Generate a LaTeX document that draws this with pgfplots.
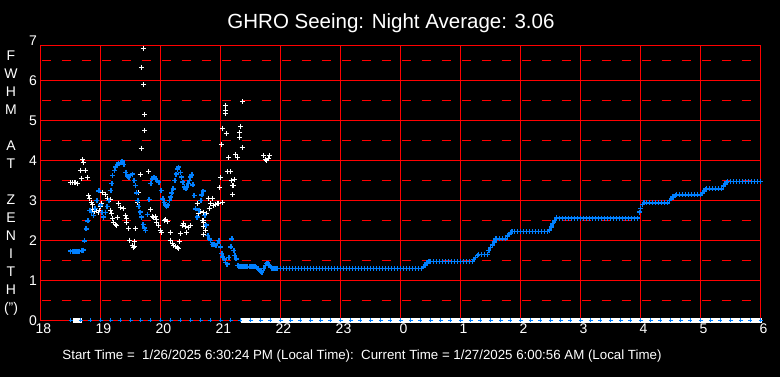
\documentclass[border=0pt]{standalone}
\usepackage{pgfplots}
\pgfplotsset{compat=1.18}
\usepackage{fontspec}
\setmainfont{Liberation Sans}
\definecolor{myblue}{RGB}{0,128,255}
\begin{document}
\begin{tikzpicture}[x=1pt,y=1pt]
\fill[black] (0,0) rectangle (780,377);
\begin{axis}[
  at={(40.5pt,56.5pt)}, anchor=south west,
  scale only axis, width=720pt, height=275pt,
  xmin=18, xmax=30, ymin=0, ymax=6.875,
  xtick={18,...,30}, xticklabels={18,19,20,21,22,23,0,1,2,3,4,5,6},
  ytick={0,...,6},
  xmajorgrids, ymajorgrids,
  major grid style={red, line width=1pt},
  axis line style={red, line width=1pt},
  major tick length=0pt, minor tick length=0pt,
  tick label style={white, font=\fontsize{14}{14}\selectfont},
  xticklabel style={inner sep=2pt, xshift=3pt, yshift=-1.5pt},
  /pgf/number format/assume math mode=true,
  clip=false,
  every axis plot/.append style={only marks, mark=+, mark size=2.5pt, line width=1pt},
  dashgrid/.style={red, no marks, sharp plot, line width=1pt, dash pattern=on 9pt off 11pt, dash phase=18.8pt, forget plot},
]
% dashed half-unit grid lines
\addplot[dashgrid] coordinates {(18,0.5)(30,0.5)};
\addplot[dashgrid] coordinates {(18,1.5)(30,1.5)};
\addplot[dashgrid] coordinates {(18,2.5)(30,2.5)};
\addplot[dashgrid] coordinates {(18,3.5)(30,3.5)};
\addplot[dashgrid] coordinates {(18,4.5)(30,4.5)};
\addplot[dashgrid] coordinates {(18,5.5)(30,5.5)};
\addplot[dashgrid] coordinates {(18,6.5)(30,6.5)};
% white measurements
\addplot[white] coordinates {
(18.5,3.44)(18.53,3.44)(18.56,3.44)(18.59,3.44)(18.61,3.43)
(18.7,4.02)(18.71,3.94)(18.67,3.75)(18.75,3.76)(18.69,3.56)(18.78,3.57)
(18.8,3.12)(18.82,3.06)(18.85,2.95)(18.87,2.90)(18.86,2.77)(18.9,2.73)(18.93,2.75)(18.96,2.70)(18.98,2.75)
(19.02,2.92)(19.0,2.85)(19.04,3.20)(19.08,3.16)(19.11,3.06)(19.16,3.02)(19.17,2.75)(19.18,2.67)(19.2,2.55)
(19.21,2.46)(19.25,2.40)(19.27,2.38)(19.28,2.58)(19.3,2.92)(19.34,2.83)(19.39,2.79)(19.41,2.62)(19.43,2.54)
(19.44,2.46)(19.47,2.29)(19.49,2.01)(19.53,1.87)(19.55,1.82)(19.56,1.84)(19.57,1.98)(19.58,2.29)(19.62,2.96)
(19.64,3.20)(19.66,3.64)(19.68,4.31)(19.69,6.32)(19.71,6.79)(19.72,5.89)(19.73,5.14)(19.74,4.74)(19.8,3.72)
(19.84,2.77)(19.87,2.60)(19.89,2.57)(19.91,2.59)(19.93,2.53)(19.94,2.46)(19.97,2.38)(20.0,2.25)(20.01,2.21)
(20.06,2.49)(20.08,2.52)(20.11,2.47)(20.16,2.21)(20.17,2.00)(20.2,1.92)(20.22,1.88)(20.25,1.85)(20.28,1.82)
(20.3,1.79)(20.31,1.98)(20.33,2.18)(20.36,2.38)(20.39,2.42)(20.42,2.36)(20.44,2.21)(20.47,2.32)(20.5,2.38)
(20.61,2.92)(20.64,2.67)(20.67,2.73)(20.7,2.50)(20.72,2.46)(20.75,2.25)(20.77,2.67)(20.71,2.71)(20.71,2.49)
(20.71,2.35)(20.71,2.15)(20.8,3.06)(20.81,2.79)(20.83,2.92)(20.86,3.05)(20.89,2.88)(20.92,2.90)(20.95,2.92)
(20.97,2.92)(21.03,2.95)(20.99,3.33)(21.0,3.57)(21.0,3.58)(21.02,4.40)(21.04,4.81)(21.08,5.37)(21.08,5.26)
(21.08,5.18)(21.1,4.67)(21.12,3.72)(21.14,4.07)(21.16,3.72)(21.18,3.50)(21.2,3.37)(21.22,3.37)(21.2,3.14)
(21.24,3.52)(21.25,4.14)(21.28,4.07)(21.32,4.69)(21.32,4.57)(21.34,4.85)(21.36,4.33)(21.37,5.47)
(21.72,4.12)(21.75,4.03)(21.77,4.00)(21.8,4.05)(21.82,4.12)
};
% blue smoothed seeing
\addplot[myblue, line width=1.6pt] coordinates {
(18.50,1.73)(18.53,1.73)(18.56,1.73)(18.59,1.73)(18.62,1.72)(18.65,1.73)(18.68,1.74)(18.71,1.76)
(18.73,1.99)(18.76,2.29)(18.79,2.49)(18.82,2.75)(18.85,2.70)(18.88,2.62)(18.91,2.80)(18.94,3.00)(18.97,3.24)
(19.0,2.88)(19.02,2.70)(19.05,2.58)(19.08,2.70)(19.11,2.85)(19.14,3.00)(19.17,3.25)(19.19,3.42)(19.2,3.62)
(19.23,3.75)(19.25,3.83)(19.28,3.88)(19.3,3.93)(19.33,3.95)(19.36,3.98)(19.39,3.90)(19.42,3.70)(19.45,3.61)
(19.47,3.58)(19.5,3.63)(19.53,3.66)(19.56,3.50)(19.58,3.37)(19.6,3.19)(19.62,3.00)(19.64,2.85)(19.66,2.71)
(19.68,2.58)(19.71,2.40)(19.73,2.31)(19.75,2.25)(19.78,2.65)(19.81,3.02)(19.84,3.42)(19.86,3.54)(19.88,3.58)
(19.9,3.57)(19.92,3.54)(19.95,3.49)(19.97,3.46)(20.01,3.25)(20.04,3.04)(20.06,2.95)(20.08,2.88)(20.1,2.85)
(20.12,2.88)(20.15,3.00)(20.17,3.08)(20.19,3.19)(20.21,3.29)(20.24,3.50)(20.26,3.66)(20.28,3.78)(20.3,3.83)
(20.33,3.70)(20.35,3.58)(20.37,3.46)(20.4,3.34)(20.42,3.29)(20.44,3.34)(20.46,3.42)(20.48,3.50)(20.5,3.58)
(20.52,3.64)(20.54,3.39)(20.56,3.12)(20.58,2.79)(20.61,2.58)(20.64,2.75)(20.67,3.00)(20.69,3.14)(20.71,3.23)
(20.74,2.62)(20.76,2.38)(20.79,2.12)(20.81,2.04)(20.83,2.00)(20.86,1.90)(20.89,1.89)(20.92,1.88)(20.95,1.92)
(20.97,2.00)(21.0,1.84)(21.02,1.67)(21.04,1.59)(21.06,1.54)(21.08,1.45)(21.11,1.41)(21.14,1.57)(21.17,1.84)
(21.19,2.04)(21.22,1.75)(21.24,1.62)(21.26,1.54)(21.29,1.37)(21.31,1.35)(21.33,1.34)(21.36,1.34)(21.39,1.34)
(21.42,1.34)(21.45,1.34)(21.48,1.34)(21.51,1.34)(21.54,1.34)(21.57,1.34)(21.6,1.33)(21.63,1.28)(21.65,1.25)
(21.67,1.23)(21.69,1.21)(21.72,1.30)(21.75,1.37)(21.77,1.42)(21.79,1.43)(21.81,1.37)(21.83,1.34)(21.86,1.31)
(21.89,1.30)(21.92,1.30)
(21.95,1.30)(22.00,1.30)(22.05,1.30)(22.10,1.30)(22.15,1.30)(22.20,1.30)(22.25,1.30)(22.30,1.30)(22.35,1.30)
(22.40,1.30)(22.45,1.30)(22.50,1.30)(22.55,1.30)(22.60,1.30)(22.65,1.30)(22.70,1.30)(22.75,1.30)(22.80,1.30)
(22.85,1.30)(22.90,1.30)(22.95,1.30)(23.00,1.30)(23.05,1.30)(23.10,1.30)(23.15,1.30)(23.20,1.30)(23.25,1.30)
(23.30,1.30)(23.35,1.30)(23.40,1.30)(23.45,1.30)(23.50,1.30)(23.55,1.30)(23.60,1.30)(23.65,1.30)(23.70,1.30)
(23.75,1.30)(23.80,1.30)(23.85,1.30)(23.90,1.30)(23.95,1.30)(24.00,1.30)(24.05,1.30)(24.10,1.30)(24.15,1.30)
(24.20,1.30)(24.25,1.30)(24.30,1.30)(24.35,1.30)
(24.38,1.34)(24.41,1.39)(24.44,1.44)(24.47,1.47)
(24.50,1.47)(24.55,1.47)(24.60,1.47)(24.65,1.47)(24.70,1.47)(24.75,1.47)(24.80,1.47)(24.85,1.47)(24.90,1.47)
(24.95,1.47)(25.00,1.47)(25.05,1.47)(25.10,1.47)(25.15,1.47)(25.20,1.47)
(25.22,1.52)(25.25,1.57)(25.28,1.62)(25.30,1.65)(25.35,1.65)(25.40,1.65)(25.45,1.65)
(25.47,1.75)(25.50,1.82)(25.53,1.89)(25.56,1.96)(25.58,2.04)(25.60,2.04)(25.65,2.04)(25.70,2.04)(25.75,2.04)
(25.78,2.11)(25.81,2.16)(25.84,2.20)(25.86,2.22)
(25.90,2.22)(25.95,2.22)(26.00,2.22)(26.05,2.22)(26.10,2.22)(26.15,2.22)(26.20,2.22)(26.25,2.22)(26.30,2.22)
(26.35,2.22)(26.40,2.22)(26.45,2.22)
(26.48,2.26)(26.51,2.34)(26.54,2.42)(26.57,2.50)(26.60,2.57)
(26.65,2.56)(26.70,2.56)(26.75,2.56)(26.80,2.56)(26.85,2.56)(26.90,2.56)(26.95,2.56)(27.00,2.56)(27.05,2.56)
(27.10,2.56)(27.15,2.56)(27.20,2.56)(27.25,2.56)(27.30,2.56)(27.35,2.56)(27.40,2.56)(27.45,2.56)(27.50,2.56)
(27.55,2.56)(27.60,2.56)(27.65,2.56)(27.70,2.56)(27.75,2.56)(27.80,2.56)(27.85,2.56)(27.90,2.56)(27.95,2.56)
(27.98,2.71)(28.00,2.80)(28.03,2.90)(28.06,2.95)
(28.10,2.94)(28.15,2.94)(28.20,2.94)(28.25,2.94)(28.30,2.94)(28.35,2.94)(28.40,2.94)(28.45,2.94)
(28.48,3.00)(28.51,3.04)(28.54,3.09)(28.58,3.13)
(28.60,3.14)(28.65,3.14)(28.70,3.14)(28.75,3.14)(28.80,3.14)(28.85,3.14)(28.90,3.14)(28.95,3.14)(29.00,3.14)
(29.03,3.19)(29.06,3.24)(29.09,3.28)
(29.10,3.29)(29.15,3.29)(29.20,3.29)(29.25,3.29)(29.30,3.29)(29.35,3.29)
(29.38,3.36)(29.41,3.41)(29.44,3.46)
(29.45,3.47)(29.50,3.47)(29.55,3.47)(29.60,3.47)(29.65,3.47)(29.70,3.47)(29.75,3.47)(29.80,3.47)(29.85,3.47)
(29.90,3.47)(29.95,3.47)(30.00,3.47)
};
% white zero band
\addplot[white, mark=-, mark size=3.3pt, line width=5pt] coordinates {
(18.60,0)(18.64,0)
(21.4,0)(21.5,0)(21.6,0)(21.7,0)(21.8,0)(21.9,0)(22.0,0)(22.1,0)(22.2,0)(22.3,0)(22.4,0)(22.5,0)(22.6,0)
(22.7,0)(22.8,0)(22.9,0)(23.0,0)(23.1,0)(23.2,0)(23.3,0)(23.4,0)(23.5,0)(23.6,0)(23.7,0)(23.8,0)(23.9,0)
(24.0,0)(24.1,0)(24.2,0)(24.3,0)(24.4,0)(24.5,0)(24.6,0)(24.7,0)(24.8,0)(24.9,0)(25.0,0)(25.1,0)(25.2,0)
(25.3,0)(25.4,0)(25.5,0)(25.6,0)(25.7,0)(25.8,0)(25.9,0)(26.0,0)(26.1,0)(26.2,0)(26.3,0)(26.4,0)(26.5,0)
(26.6,0)(26.7,0)(26.8,0)(26.9,0)(27.0,0)(27.1,0)(27.2,0)(27.3,0)(27.4,0)(27.5,0)(27.6,0)(27.7,0)(27.8,0)
(27.9,0)(28.0,0)(28.1,0)(28.2,0)(28.3,0)(28.4,0)(28.5,0)(28.6,0)(28.7,0)(28.8,0)(28.9,0)(29.0,0)(29.1,0)
(29.2,0)(29.3,0)(29.4,0)(29.5,0)(29.6,0)(29.7,0)(29.8,0)(29.9,0)(29.97,0)
};
% blue zero markers
\addplot[myblue, mark size=2pt] coordinates {
(18.5,0)(18.67,0)(18.83,0)(19.0,0)(19.17,0)(19.33,0)(19.5,0)(19.67,0)(19.83,0)(20.0,0)(20.17,0)(20.33,0)
(20.5,0)(20.67,0)(20.83,0)(21.0,0)(21.17,0)(21.33,0)(21.5,0)(21.67,0)(21.83,0)(22.0,0)(22.17,0)(22.33,0)
(22.5,0)(22.67,0)(22.83,0)(23.0,0)(23.17,0)(23.33,0)(23.5,0)(23.67,0)(23.83,0)(24.0,0)(24.17,0)(24.33,0)
(24.5,0)(24.67,0)(24.83,0)(25.0,0)(25.17,0)(25.33,0)(25.5,0)(25.67,0)(25.83,0)(26.0,0)(26.17,0)(26.33,0)
(26.5,0)(26.67,0)(26.83,0)(27.0,0)(27.17,0)(27.33,0)(27.5,0)(27.67,0)(27.83,0)(28.0,0)(28.17,0)(28.33,0)
(28.5,0)(28.67,0)(28.83,0)(29.0,0)(29.17,0)(29.33,0)(29.5,0)(29.67,0)(29.83,0)(30.0,0)
};
\end{axis}
\node[white, anchor=east, inner sep=0.333em, font=\fontsize{14}{14}\selectfont] at (40.5,336.5) {7};
\node[white, anchor=base, font=\fontsize{20.5}{22}\selectfont] at (391,348.7) {GHRO Seeing: Night Average: 3.06};
\node[white, anchor=base, font=\fontsize{13.3}{15}\selectfont] at (362,17) {Start Time =\ \ 1/26/2025 6:30:24 PM (Local Time):\ \ Current Time =\ 1/27/2025 6:00:56 AM (Local Time)};
\node[white, align=center, font=\fontsize{14}{18}\selectfont] at (11,194.3) {F\\W\\H\\M\\[18pt]A\\T\\[18pt]Z\\E\\N\\I\\T\\H\\(\symbol{34})};
\end{tikzpicture}
\end{document}
